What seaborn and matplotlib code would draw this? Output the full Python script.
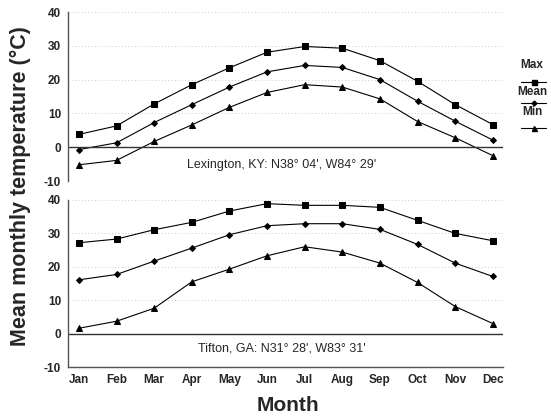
import matplotlib
matplotlib.use("Agg")
import matplotlib.pyplot as plt
import seaborn as sns
import pandas as pd
from matplotlib.lines import Line2D

months = ["Jan", "Feb", "Mar", "Apr", "May", "Jun", "Jul", "Aug", "Sep", "Oct", "Nov", "Dec"]

lex_max = [3.8, 6.3, 12.8, 18.5, 23.5, 28.1, 29.8, 29.3, 25.6, 19.5, 12.6, 6.7]
lex_mean = [-0.7, 1.3, 7.3, 12.6, 17.8, 22.3, 24.2, 23.6, 20.0, 13.6, 7.7, 2.1]
lex_min = [-5.2, -3.9, 1.7, 6.6, 11.8, 16.2, 18.5, 17.8, 14.3, 7.6, 2.8, -2.5]

tif_max = [27.2, 28.3, 31.1, 33.3, 36.7, 38.9, 38.4, 38.4, 37.8, 33.9, 30.0, 27.8]
tif_mean = [16.1, 17.7, 21.7, 25.6, 29.6, 32.3, 32.9, 32.9, 31.2, 26.7, 21.1, 17.1]
tif_min = [1.6, 3.7, 7.6, 15.5, 19.3, 23.3, 26.0, 24.4, 21.1, 15.3, 8.1, 3.0]

series_names = ["Max", "Mean", "Min"]
lex_label = "Lexington, KY: N38\u00b0 04', W84\u00b0 29'"
tif_label = "Tifton, GA: N31\u00b0 28', W83\u00b0 31'"
yticks = [-10, 0, 10, 20, 30, 40]

sns.set_theme(style="white")
plt.rcParams['font.family'] = ['Liberation Sans', 'DejaVu Sans']

markers = {"Max": "s", "Mean": "D", "Min": "^"}
msizes = {"Max": 4.5, "Mean": 3.0, "Min": 4.5}


def make_df(mx, mn, lo):
    rows = []
    for name, vals in zip(series_names, [mx, mn, lo]):
        for i, v in enumerate(vals):
            rows.append({"month": i, "temp": v, "series": name})
    return pd.DataFrame(rows)


fig = plt.figure(figsize=(5.51, 4.19), dpi=100)
ax1 = fig.add_axes([0.1234, 0.568, 0.7895, 0.4033])
ax2 = fig.add_axes([0.1234, 0.1241, 0.7895, 0.3986])

for ax, data, label, ly in [(ax1, (lex_max, lex_mean, lex_min), lex_label, -5.3),
                            (ax2, (tif_max, tif_mean, tif_min), tif_label, -4.6)]:
    df = make_df(*data)
    for name in series_names:
        sub = df[df.series == name]
        sns.lineplot(data=sub, x="month", y="temp", ax=ax, color="black", lw=0.8,
                     marker=markers[name], markersize=msizes[name],
                     markeredgecolor="black", markerfacecolor="black", legend=False)
    ax.set_xlim(-0.29, 11.27)
    ax.set_ylim(-10, 40)
    ax.set_yticks(yticks)
    ax.set_yticklabels([str(t) for t in yticks], fontsize=8.5, fontweight="bold")
    ax.yaxis.grid(True, color="#bbbbbb", linestyle=(0, (1, 3)), lw=0.6)
    ax.axhline(0, color="#333333", lw=1.0)
    ax.set_xlabel("")
    ax.set_ylabel("")
    ax.tick_params(axis="both", length=0, pad=5)
    for s in ["top", "right"]:
        ax.spines[s].set_visible(False)
    ax.spines["left"].set_color("#555555")
    ax.spines["left"].set_linewidth(1.0)
    ax.text(5.4, ly, label, ha="center", va="center", fontsize=9)

ax1.spines["bottom"].set_visible(False)
ax1.set_xticks(range(12))
ax1.set_xticklabels([])
ax2.spines["bottom"].set_color("#555555")
ax2.spines["bottom"].set_linewidth(1.0)
ax2.set_xticks(range(12))
ax2.set_xticklabels(months, fontsize=8.5, fontweight="bold")

fig.text(0.038, 0.555, "Mean monthly temperature (\u00b0C)", rotation=90,
         ha="center", va="center", fontsize=15.5, fontweight="bold")
fig.text(0.522, 0.033, "Month", ha="center", va="center", fontsize=15, fontweight="bold")

# legend (labels above handles)
leg_y = {"Max": (65, 82), "Mean": (92, 103), "Min": (112, 128)}
H = 419.0
W = 551.0
for name in series_names:
    ty, hy = leg_y[name]
    fig.text(532 / W, 1 - ty / H, name, ha="center", va="center", fontsize=8.5, fontweight="bold")
    fig.add_artist(Line2D([521 / W, 546 / W], [1 - hy / H, 1 - hy / H], color="black", lw=0.8,
                          transform=fig.transFigure))
    fig.add_artist(Line2D([533.5 / W], [1 - hy / H], marker=markers[name], markersize=msizes[name] * 0.8,
                          color="black", transform=fig.transFigure))

fig.savefig("out.png", dpi=100)
